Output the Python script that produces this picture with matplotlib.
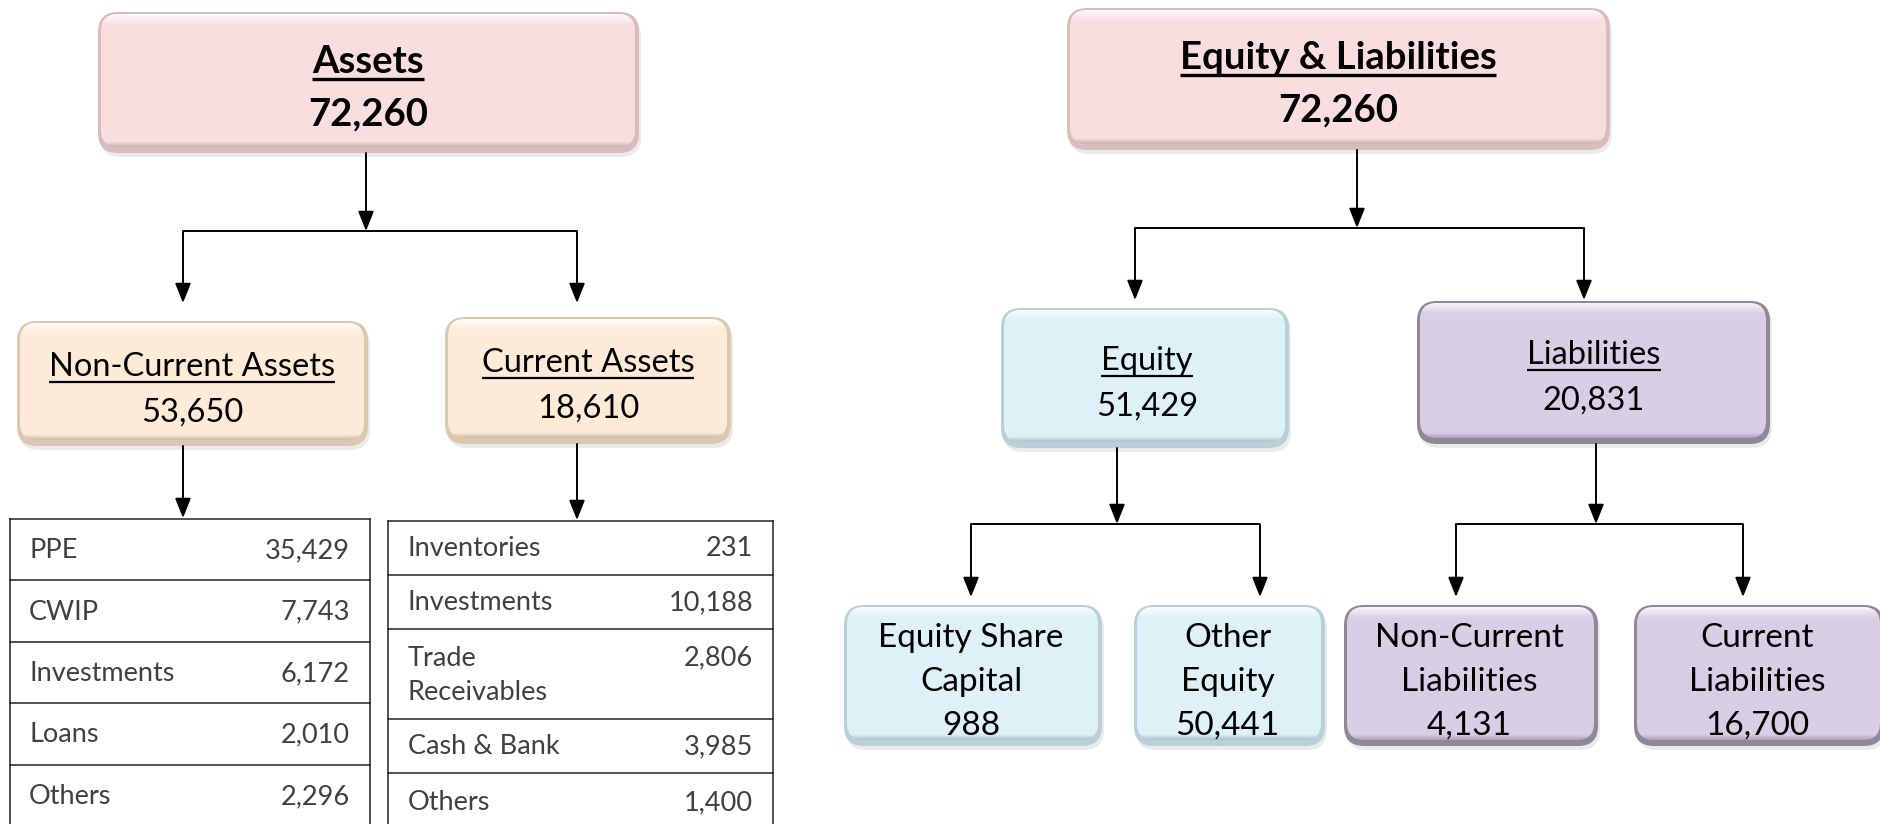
import matplotlib
matplotlib.use('Agg')
import numpy as np
import matplotlib.pyplot as plt
from matplotlib.patches import FancyBboxPatch

plt.rcParams['font.family'] = ['Lato', 'DejaVu Sans']

# data
assets_total = 72260
eq_liab_total = 72260
nca_total = 53650
ca_total = 18610
equity_total = 51429
liab_total = 20831

equity_parts = ['Equity Share\nCapital', 'Other\nEquity']
equity_values = [988, 50441]
liab_parts = ['Non-Current\nLiabilities', 'Current\nLiabilities']
liab_values = [4131, 16700]

nca_items = ['PPE', 'CWIP', 'Investments', 'Loans', 'Others']
nca_values = [35429, 7743, 6172, 2010, 2296]
ca_items = ['Inventories', 'Investments', 'Trade\nReceivables', 'Cash & Bank', 'Others']
ca_values = [231, 10188, 2806, 3985, 1400]

PINK = '#F9DEDF'
PEACH = '#FDEBD8'
CYAN = '#DDF1F7'
LAV = '#D8CFE6'

fig = plt.figure(figsize=(18.8, 8.24), dpi=100)
ax = fig.add_axes([0, 0, 1, 1])
ax.set_xlim(0, 1880)
ax.set_ylim(824, 0)
ax.axis('off')


def fmt(v):
    return f"{v:,}"


def bevel_box(x0, y0, x1, y1, face, dark, rad=20):
    w = x1 - x0
    h = y1 - y0
    # soft shadow
    ax.add_patch(FancyBboxPatch((x0 + 2, y0 + 4), w, h,
                                boxstyle=f"round,pad=0,rounding_size={rad}",
                                fc='#000000', alpha=0.08, lw=0))
    # darker rim
    rim = FancyBboxPatch((x0, y0), w, h,
                         boxstyle=f"round,pad=0,rounding_size={rad}",
                         fc=dark, lw=0)
    ax.add_patch(rim)
    # main face
    inner = FancyBboxPatch((x0 + 3, y0 + 2), w - 7, h - 8,
                           boxstyle=f"round,pad=0,rounding_size={rad - 3}",
                           fc=face, lw=0)
    ax.add_patch(inner)
    # top highlight, fading downward
    n = 40
    grad = np.zeros((n, 2, 4))
    a = np.clip(1 - np.linspace(0, 1, n) * 2.2, 0, 1) * 0.85
    grad[:, :, :3] = 1.0
    grad[:, :, 3] = a[:, None]
    im = ax.imshow(grad, extent=(x0 + 3, x1 - 4, y0 + 2 + n * 0.6, y0 + 2),
                   aspect='auto', interpolation='bilinear', zorder=2)
    im.set_clip_path(inner)
    # darker edge along bottom and right
    g2 = np.zeros((n, 2, 4))
    b = np.clip(np.linspace(-1.5, 1, n), 0, 1) * 0.35
    g2[:, :, 3] = b[:, None]
    im2 = ax.imshow(g2, extent=(x0, x1, y1 - 2, y1 - 2 - 24),
                    aspect='auto', interpolation='bilinear', zorder=2)
    im2.set_clip_path(inner)
    ax.set_xlim(0, 1880)
    ax.set_ylim(824, 0)


def arrow(x, y0, y1):
    ax.annotate('', xy=(x, y1), xytext=(x, y0),
                arrowprops=dict(arrowstyle='-|>,head_length=0.5,head_width=0.2',
                                color='black', lw=1.4, mutation_scale=24,
                                shrinkA=0, shrinkB=0))


def branch(xc, ytop, ymid, xl, xr, ybot):
    arrow(xc, ytop, ymid)
    ax.plot([xl, xr], [ymid, ymid], color='black', lw=1.4, solid_capstyle='butt')
    arrow(xl, ymid, ybot)
    arrow(xr, ymid, ybot)


underlined = []


def header(xc, y_title, y_val, title, value, size, bold):
    w = 'bold' if bold else 'normal'
    t = ax.text(xc, y_title, title, ha='center', va='baseline', fontsize=size,
                fontweight=w, color='black', zorder=3)
    ax.text(xc, y_val, fmt(value), ha='center', va='baseline', fontsize=size,
            fontweight=w, color='black', zorder=3)
    underlined.append((t, y_title + 6, 2.4 if bold else 1.6))


# ---------------- Assets side ----------------
bevel_box(98, 12, 639, 153, PINK, '#d9bcbd')
header(368, 73, 125, 'Assets', assets_total, 27.5, True)
branch(366, 153, 231, 183, 577, 303)

bevel_box(17, 321, 368, 446, PEACH, '#dcc7b1')
header(192, 376, 422, 'Non-Current Assets', nca_total, 23.5, False)
bevel_box(445, 317, 731, 444, PEACH, '#dcc7b1')
header(588, 372, 418, 'Current Assets', ca_total, 23.5, False)

arrow(183, 446, 518)
arrow(577, 444, 520)


# tables
def table(x0, x1, ytop, heights, items, values, lab_x, val_x):
    ys = [ytop]
    for h in heights:
        ys.append(ys[-1] + h)
    ax.plot([x0, x0], [ytop, 830], color='#222222', lw=1.1)
    ax.plot([x1, x1], [ytop, 830], color='#222222', lw=1.1)
    for y in ys:
        ax.plot([x0, x1], [y, y], color='#222222', lw=1.1)
    for i, (lab, val) in enumerate(zip(items, values)):
        if '\n' in lab:
            yc = ys[i] + 29
            for k, ln in enumerate(lab.split('\n')):
                ax.text(lab_x, yc + k * 35, ln, ha='left', va='center',
                        fontsize=19.5, color='#404040')
            ax.text(val_x, yc, fmt(val), ha='right', va='center',
                    fontsize=19.5, color='#404040')
        else:
            yc = (ys[i] + ys[i + 1]) / 2 + 1
            ax.text(lab_x, yc, lab, ha='left', va='center', fontsize=19.5,
                    color='#404040')
            ax.text(val_x, yc, fmt(val), ha='right', va='center', fontsize=19.5,
                    color='#404040')


table(10, 370, 519, [61, 62, 61, 62, 62], nca_items, nca_values, 29, 350)
table(388, 773, 521, [54, 54, 90, 54, 58], ca_items, ca_values, 408, 753)

# ---------------- Equity & Liabilities side ----------------
bevel_box(1067, 8, 1610, 150, PINK, '#d9bcbd')
header(1338, 69, 121, 'Equity & Liabilities', eq_liab_total, 27.5, True)
branch(1357, 150, 228, 1135, 1584, 300)

bevel_box(1001, 308, 1289, 448, CYAN, '#b9d0d6')
header(1147, 370, 416, 'Equity', equity_total, 23.5, False)
bevel_box(1417, 301, 1770, 444, LAV, '#8f8899')
header(1594, 364, 410, 'Liabilities', liab_total, 23.5, False)

branch(1117, 448, 524, 971, 1260, 597)
branch(1596, 444, 524, 1456, 1743, 597)

bottom_boxes = [(844, 1102, CYAN, '#b9d0d6'), (1134, 1325, CYAN, '#b9d0d6'),
                (1344, 1598, LAV, '#8f8899'), (1634, 1884, LAV, '#8f8899')]
bottom_labels = equity_parts + liab_parts
bottom_values = equity_values + liab_values
for (bx0, bx1, fc, dk), lab, val in zip(bottom_boxes, bottom_labels, bottom_values):
    bevel_box(bx0, 605, bx1, 746, fc, dk)
    xc = (bx0 + bx1) / 2 - 2
    l1, l2 = lab.split('\n')
    ax.text(xc, 647, l1, ha='center', va='baseline', fontsize=24, zorder=3)
    ax.text(xc, 691, l2, ha='center', va='baseline', fontsize=24, zorder=3)
    ax.text(xc, 735, fmt(val), ha='center', va='baseline', fontsize=24, zorder=3)

# underlines under header titles
fig.canvas.draw()
r = fig.canvas.get_renderer()
inv = ax.transData.inverted()
for t, yline, lw in underlined:
    bb = t.get_window_extent(r)
    (xa, _), (xb, _) = inv.transform([(bb.x0, bb.y0), (bb.x1, bb.y1)])
    ax.plot([xa, xb], [yline, yline], color='black', lw=lw, solid_capstyle='butt', zorder=3)

fig.savefig('out.png', dpi=100, facecolor='white')
